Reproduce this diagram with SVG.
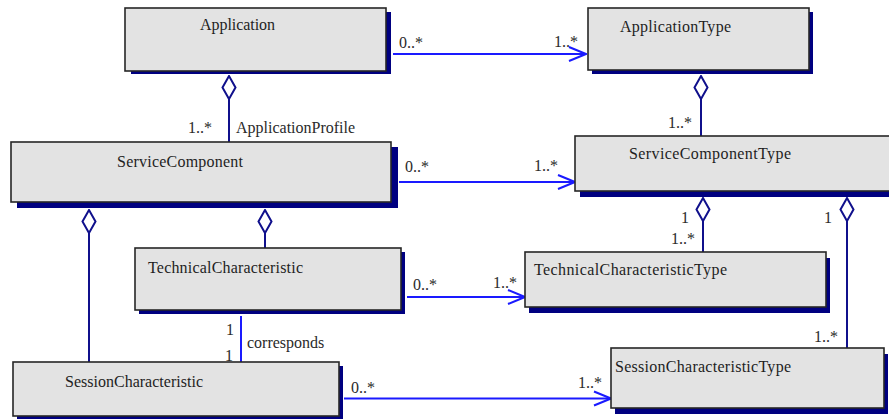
<svg xmlns="http://www.w3.org/2000/svg" width="889" height="419" viewBox="0 0 889 419">
  <style>
    .shadow { fill: #000080; }
    .box { fill: #e3e3e3; stroke: #262626; stroke-width: 1.6; }
    .name { font-family: "Liberation Serif", "Times New Roman", serif; font-size: 16px; fill: #1e1e1e; }
    .lbl { font-family: "Liberation Serif", "Times New Roman", serif; font-size: 16px; fill: #2a2a2a; }
    .assoc { stroke: #1a1aff; stroke-width: 2; fill: none; }
    .agg { stroke: #10108c; stroke-width: 2; fill: none; }
  </style>
  <defs>
    <marker id="open-arrow" markerUnits="userSpaceOnUse" markerWidth="20" markerHeight="18" viewBox="-19 -9 20 18" refX="0" refY="0" orient="auto">
      <path d="M -17 -7 L 0 0 L -17 7" fill="none" stroke="#1a1aff" stroke-width="2"/>
    </marker>
    <marker id="agg-diamond" markerUnits="userSpaceOnUse" markerWidth="26" markerHeight="16" viewBox="-1 -8 26 16" refX="0" refY="0" orient="auto">
      <path d="M 0 0 L 11.5 -6.5 L 23 0 L 11.5 6.5 Z" fill="#ffffff" stroke="#10108c" stroke-width="2"/>
    </marker>
  </defs>

  <rect width="889" height="419" fill="#ffffff"/>

  <g id="connectors">
    <!-- associations -->
    <line class="assoc" x1="393" y1="54" x2="586" y2="54" marker-end="url(#open-arrow)"/>
    <line class="assoc" x1="399" y1="182" x2="575" y2="182" marker-end="url(#open-arrow)"/>
    <line class="assoc" x1="407" y1="297" x2="525" y2="297" marker-end="url(#open-arrow)"/>
    <line class="assoc" x1="344" y1="398.5" x2="611" y2="398.5" marker-end="url(#open-arrow)"/>
    <line class="assoc" x1="241" y1="316" x2="241" y2="362"/>
    <!-- aggregations -->
    <line class="agg" x1="229" y1="76" x2="229" y2="142" marker-start="url(#agg-diamond)"/>
    <line class="agg" x1="701" y1="76" x2="701" y2="136" marker-start="url(#agg-diamond)"/>
    <line class="agg" x1="89" y1="210" x2="89" y2="362" marker-start="url(#agg-diamond)"/>
    <line class="agg" x1="265" y1="210" x2="265" y2="248" marker-start="url(#agg-diamond)"/>
    <line class="agg" x1="703" y1="198" x2="703" y2="252" marker-start="url(#agg-diamond)"/>
    <line class="agg" x1="847" y1="198" x2="847" y2="348" marker-start="url(#agg-diamond)"/>

    <!-- multiplicities and role names -->
    <text class="lbl" x="399" y="48">0..*</text>
    <text class="lbl" x="554" y="47">1..*</text>
    <text class="lbl" x="188" y="133">1..*</text>
    <text class="lbl" x="236" y="133">ApplicationProfile</text>
    <text class="lbl" x="668" y="128">1..*</text>
    <text class="lbl" x="405" y="172">0..*</text>
    <text class="lbl" x="534" y="171">1..*</text>
    <text class="lbl" x="681" y="223">1</text>
    <text class="lbl" x="671" y="244">1..*</text>
    <text class="lbl" x="824" y="223">1</text>
    <text class="lbl" x="814" y="342">1..*</text>
    <text class="lbl" x="413" y="290">0..*</text>
    <text class="lbl" x="493" y="288">1..*</text>
    <text class="lbl" x="226" y="335">1</text>
    <text class="lbl" x="225" y="361">1</text>
    <text class="lbl" x="247" y="348">corresponds</text>
    <text class="lbl" x="351" y="393">0..*</text>
    <text class="lbl" x="578" y="388">1..*</text>
  </g>

  <g id="application">
    <rect class="shadow" x="131" y="12" width="260" height="62"/>
    <rect class="box" x="125" y="8" width="261" height="63"/>
    <text class="name" x="200" y="30" textLength="75">Application</text>
  </g>

  <g id="application-type">
    <rect class="shadow" x="592" y="12" width="221" height="62"/>
    <rect class="box" x="588" y="8" width="221" height="62"/>
    <text class="name" x="620" y="32" textLength="111">ApplicationType</text>
  </g>

  <g id="service-component">
    <rect class="shadow" x="17" y="147" width="381" height="61"/>
    <rect class="box" x="11" y="142" width="380" height="60"/>
    <text class="name" x="117" y="167" textLength="126">ServiceComponent</text>
  </g>

  <g id="service-component-type">
    <rect class="shadow" x="580" y="141" width="320" height="56"/>
    <rect class="box" x="575" y="136" width="320" height="55"/>
    <text class="name" x="629" y="159" textLength="162">ServiceComponentType</text>
  </g>

  <g id="technical-characteristic">
    <rect class="shadow" x="139" y="252" width="266" height="62"/>
    <rect class="box" x="135" y="248" width="266" height="62"/>
    <text class="name" x="148" y="273" textLength="155">TechnicalCharacteristic</text>
  </g>

  <g id="technical-characteristic-type">
    <rect class="shadow" x="529" y="258" width="301" height="55"/>
    <rect class="box" x="525" y="252" width="301" height="55"/>
    <text class="name" x="534" y="275" textLength="193">TechnicalCharacteristicType</text>
  </g>

  <g id="session-characteristic">
    <rect class="shadow" x="17" y="366" width="326" height="54"/>
    <rect class="box" x="13" y="362" width="326" height="54"/>
    <text class="name" x="65" y="387" textLength="138">SessionCharacteristic</text>
  </g>

  <g id="session-characteristic-type">
    <rect class="shadow" x="615" y="354" width="273" height="60"/>
    <rect class="box" x="611" y="348" width="273" height="60"/>
    <text class="name" x="615" y="372" textLength="176">SessionCharacteristicType</text>
  </g>
</svg>
